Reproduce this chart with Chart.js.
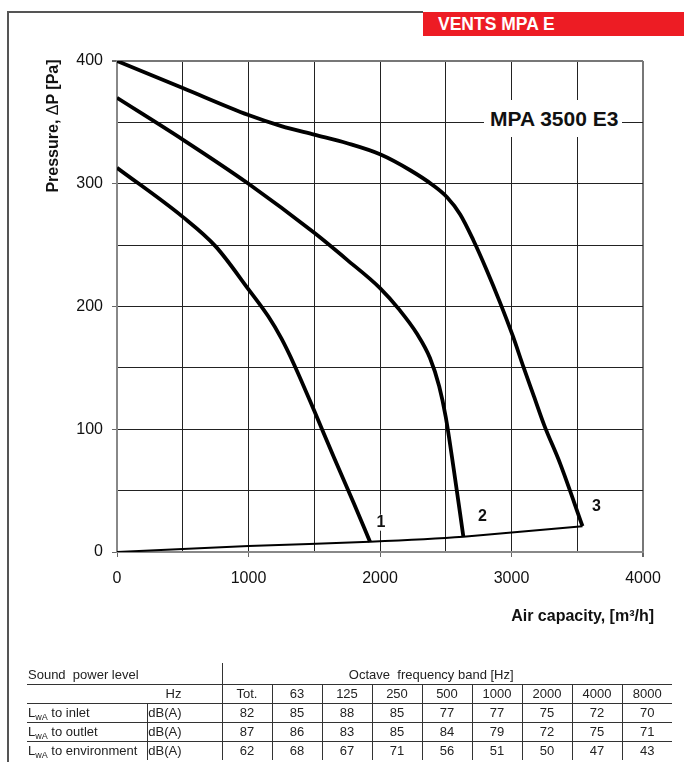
<!DOCTYPE html>
<html>
<head>
<meta charset="utf-8">
<title>VENTS MPA 3500 E3</title>
<script src="https://cdn.jsdelivr.net/npm/chart.js@4.4.1/dist/chart.umd.min.js"></script>
<style>
  body { margin: 0; background: #fff; font-family: 'Liberation Sans', Arial, sans-serif; color: #1a1a1a; }
  #page { position: relative; width: 684px; height: 762px; overflow: hidden; }
  #fanChart { position: absolute; left: 0; top: 0; }
  .frame-top { position: absolute; left: 8px; top: 11px; width: 415px; border-top: 2px solid #555; }
  .frame-left { position: absolute; left: 7px; top: 11px; height: 760px; border-left: 2px solid #555; }
  .banner { position: absolute; left: 423px; top: 12px; width: 261px; height: 24px; background: #ed1c24; color: #fff;
            font-weight: bold; font-size: 17.5px; line-height: 24px; padding-left: 15px; box-sizing: border-box; }
  .model { position: absolute; left: 484px; top: 100px; width: 138px; height: 37px; background: #fff;
           font-weight: bold; font-size: 21px; line-height: 37px; padding-left: 6px; box-sizing: border-box; color: #111; }
  .y-title { position: absolute; left: -47px; top: 116px; width: 200px; height: 20px; line-height: 20px; text-align: center;
             font-weight: bold; font-size: 16px; transform: rotate(-90deg); color: #111; }
  .y-title span { font-weight: normal; }
  .x-title { position: absolute; left: 400px; top: 606px; width: 254px; line-height: 20px; text-align: right;
             font-weight: bold; font-size: 16px; color: #111; }
  #soundTable { position: absolute; left: 27px; top: 663px; border-collapse: collapse; table-layout: fixed;
                font-size: 13px; color: #222; }
  #soundTable td { padding: 0; height: 18px; line-height: 18px; border-bottom: 1px solid #333; white-space: nowrap; text-align: center; }
  #soundTable tr:first-child td { height: 18px; line-height: 18px; padding-top: 3px; }
  #soundTable tr:last-child td { border-bottom: none; }
  #soundTable td.sep { border-left: 1px solid #333; }
  #soundTable td.name { text-align: left; padding-left: 1px; }
  #soundTable td.unit { text-align: right; padding-right: 40px; }
  #soundTable td.band { padding-right: 32px; }
  #soundTable sub { font-size: 9px; vertical-align: -3px; line-height: 0; }
</style>
</head>
<body>
<div id="page">
  <canvas id="fanChart" width="684" height="762"></canvas>
  <div class="frame-top"></div>
  <div class="frame-left"></div>
  <div class="banner">VENTS MPA E</div>
  <div class="model">MPA 3500 E3</div>
  <div class="y-title">Pressure, <span>&Delta;</span>P [Pa]</div>
  <div class="x-title">Air capacity, [m³/h]</div>
  <table id="soundTable"></table>
</div>
<script>
// Fan curves: air capacity [m3/h] vs pressure [Pa]
const curve1X = [0, 500, 750, 1000, 1150, 1250, 1350, 1500, 1650, 1800, 1924];
const curve1Y = [313, 273, 249, 214, 192, 174, 152, 115, 77, 40, 8.4];

const curve2X = [0, 500, 1000, 1500, 1750, 2000, 2150, 2280, 2380, 2450, 2500, 2560, 2634];
const curve2Y = [370, 336, 300, 260, 238, 215, 197, 178, 158, 135, 110, 68, 12.5];

const curve3X = [0, 500, 1000, 1250, 1500, 1750, 2000, 2230, 2400, 2510, 2610, 2710, 2810, 2910, 3010, 3090, 3170, 3250, 3370, 3540];
const curve3Y = [400, 378, 356, 347, 340, 333, 324, 311, 299, 289, 275, 254, 230, 204, 176, 151, 127, 103, 72, 21];

// Network (system) curve through the curve end points
const systemX = [0, 1000, 1924, 2634, 3540];
const systemY = [0, 4.8, 8.4, 12.5, 21];

const curveNames = ['1', '2', '3'];

// Sound power table
const bandLabels = ['Tot.', '63', '125', '250', '500', '1000', '2000', '4000', '8000'];
const inletLevels = [82, 85, 88, 85, 77, 77, 75, 72, 70];
const outletLevels = [87, 86, 83, 85, 84, 79, 72, 75, 71];
const environmentLevels = [62, 68, 67, 71, 56, 51, 50, 47, 43];
const rowNames = ['to inlet', 'to outlet', 'to environment'];

document.addEventListener('DOMContentLoaded', function () {
  buildTable();
  initChart();
});

function toPoints(xs, ys) {
  return xs.map((x, i) => ({ x: x, y: ys[i] }));
}

function initChart() {
  // curve number labels, offset in pixels from the end of each curve
  const labelOffsets = [[11, -19], [19, -20], [14, -20]];
  const curveLabels = {
    id: 'curveLabels',
    afterDatasetsDraw(chart) {
      const ctx = chart.ctx;
      ctx.save();
      ctx.font = 'bold 16px "Liberation Sans", Arial, sans-serif';
      ctx.textAlign = 'center';
      ctx.textBaseline = 'middle';
      curveNames.forEach((name, i) => {
        const pts = chart.getDatasetMeta(i).data;
        const end = pts[pts.length - 1];
        const px = end.x + labelOffsets[i][0];
        const py = end.y + labelOffsets[i][1];
        const w = ctx.measureText(name).width;
        ctx.fillStyle = '#fff';
        ctx.fillRect(px - w / 2 - 1, py - 8, w + 2, 16);
        ctx.fillStyle = '#111';
        ctx.fillText(name, px, py);
      });
      ctx.restore();
    }
  };

  const fanLine = { borderColor: '#000', borderWidth: 3.8, pointRadius: 0, cubicInterpolationMode: 'monotone', fill: false };

  new Chart(document.getElementById('fanChart'), {
    type: 'line',
    data: {
      datasets: [
        Object.assign({ label: '1', data: toPoints(curve1X, curve1Y) }, fanLine),
        Object.assign({ label: '2', data: toPoints(curve2X, curve2Y) }, fanLine),
        Object.assign({ label: '3', data: toPoints(curve3X, curve3Y) }, fanLine),
        { label: 'system', data: toPoints(systemX, systemY), borderColor: '#000', borderWidth: 2, pointRadius: 0, tension: 0.2, fill: false },
      ],
    },
    options: {
      responsive: false,
      animation: false,
      devicePixelRatio: 1,
      layout: { padding: { left: 0, right: 41, top: 61, bottom: 170 } },
      plugins: { legend: { display: false }, tooltip: { enabled: false } },
      scales: {
        x: {
          type: 'linear', min: 0, max: 4000,
          afterFit: s => { s.height = 40; },
          ticks: {
            stepSize: 500, autoSkip: false, maxRotation: 0, padding: 12, color: '#111',
            font: { family: 'Liberation Sans', size: 16 },
            callback: v => (v % 1000 === 0 ? v : ''),
          },
          grid: {
            color: c => (c.tick && c.tick.value === 4000 ? '#777' : '#222'),
            lineWidth: c => (c.tick && c.tick.value === 4000 ? 2 : 1),
            tickColor: c => (c.tick && c.tick.value % 1000 === 0 ? '#666' : 'rgba(0,0,0,0)'),
            tickLength: 5,
          },
          border: { color: '#888', width: 2 },
        },
        y: {
          type: 'linear', min: 0, max: 400,
          afterFit: s => { s.width = 117; },
          ticks: {
            stepSize: 50, autoSkip: false, padding: 9, color: '#111',
            font: { family: 'Liberation Sans', size: 16 },
            callback: v => (v % 100 === 0 ? v : ''),
          },
          grid: {
            color: c => (c.tick && c.tick.value === 400 ? '#777' : '#222'),
            lineWidth: c => (c.tick && c.tick.value === 400 ? 2 : 1),
            tickColor: c => (c.tick && c.tick.value % 100 === 0 ? '#666' : 'rgba(0,0,0,0)'),
            tickLength: 5,
          },
          border: { color: '#888', width: 2 },
        },
      },
    },
    plugins: [curveLabels],
  });
}

function buildTable() {
  const table = document.getElementById('soundTable');
  let html = '<colgroup><col style="width:120px"><col style="width:75px">';
  bandLabels.forEach(() => { html += '<col style="width:50px">'; });
  html += '</colgroup>';
  html += '<tr><td class="name" colspan="2">Sound&nbsp; power level</td>' +
          '<td class="sep band" colspan="' + bandLabels.length + '">Octave&nbsp; frequency band [Hz]</td></tr>';
  html += '<tr><td></td><td class="unit">Hz</td>' + bandLabels.map(b => '<td class="sep">' + b + '</td>').join('') + '</tr>';
  [inletLevels, outletLevels, environmentLevels].forEach((row, i) => {
    html += '<tr><td class="name">L<sub>wA</sub> ' + rowNames[i] + '</td><td class="sep unit">dB(A)</td>' +
            row.map(v => '<td class="sep">' + v + '</td>').join('') + '</tr>';
  });
  table.innerHTML = html;
}
</script>
</body>
</html>
